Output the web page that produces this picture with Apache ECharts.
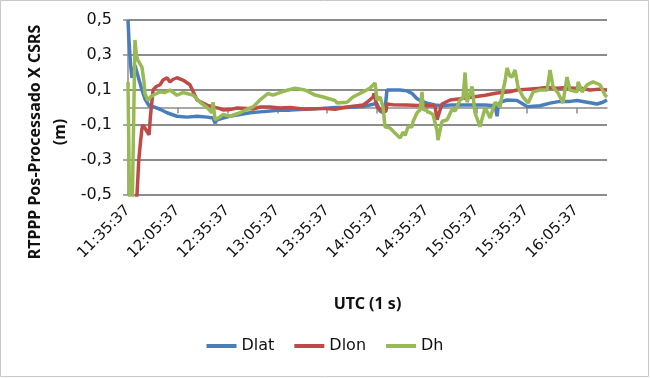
<!DOCTYPE html>
<html>
<head>
<meta charset="utf-8">
<script src="https://cdn.jsdelivr.net/npm/echarts@6/dist/echarts.min.js"></script>
<style>
html,body{margin:0;padding:0;background:#fff;}
#chart{width:650px;height:378px;}
</style>
</head>
<body>
<div id="chart"></div>
<script>
// Time in minutes after 11:35:37 UTC
var startTime = '11:35:37';
var xTickLabels = ['11:35:37','12:05:37','12:35:37','13:05:37','13:35:37','14:05:37','14:35:37','15:05:37','15:35:37','16:05:37'];
var yTickLabels = ['-0,5','-0,3','-0,1','0,1','0,3','0,5'];
var seriesNames = ['Dlat','Dlon','Dh'];

var dlatT = [0,0.5,1.5,2.4,3.5,4.2,6,8.4,10.2,12.7,15.1,19.3,23.5,29.5,35.5,41.6,47.6,51.2,52.4,53.6,57.2,61.4,67.5,73.5,79.5,85.5,91.6,97.6,106.6,117.5,124.7,131.9,141.6,148.2,150.0,151.8,153.6,154.8,156.0,157.8,163.9,168.1,171.1,174.1,177.1,180.1,184.9,189.1,195.2,201.8,207.8,215.1,221.1,222.3,222.9,224.1,228.3,234.3,237.9,240.4,248.2,254.2,260.2,266.2,270.5,276.5,282.5,286,288.5];
var dlatV = [0.5,0.4,0.25,0.17,0.21,0.24,0.18,0.1,0.05,0.01,0.005,-0.01,-0.03,-0.05,-0.055,-0.05,-0.055,-0.06,-0.09,-0.07,-0.06,-0.05,-0.04,-0.03,-0.025,-0.02,-0.015,-0.015,-0.01,-0.005,0.0,0.0,0.005,0.02,0.02,-0.02,-0.03,-0.01,0.1,0.1,0.1,0.095,0.08,0.05,0.035,0.025,0.015,0.01,0.015,0.015,0.015,0.014,0.01,-0.05,0.0,0.03,0.043,0.04,0.02,0.005,0.01,0.025,0.035,0.035,0.04,0.03,0.02,0.03,0.043];

var dlonT = [4.5,5.4,6.5,7.5,8.4,9.0,10.2,11,12.7,13.5,15.1,17,19.3,21.1,23.5,25.3,27,29.5,33.1,37.3,41.6,47.6,51.2,55,57.2,61.4,65.7,71.7,75.3,79.5,85.5,91.6,97.6,106.6,117.5,124.7,131.9,141.6,144.0,147.6,148.2,150.0,151.8,153.6,155.4,156.0,160,168,175,180,184.9,186.1,186.7,189.1,194.0,200,207.8,215.1,222.3,230,234.3,241,248.2,252.4,258.4,264,268.1,273,278.3,284,288.5];
var dlonV = [-0.55,-0.5,-0.3,-0.2,-0.12,-0.1,-0.11,-0.13,-0.157,-0.05,0.1,0.12,0.13,0.157,0.17,0.146,0.16,0.17,0.157,0.13,0.043,0.014,0.003,-0.005,-0.014,-0.012,-0.003,-0.005,-0.009,0.003,0.003,-0.003,0.0,-0.01,-0.005,-0.01,0.003,0.014,0.03,0.06,0.08,0.003,-0.01,-0.026,-0.02,0.02,0.015,0.014,0.012,0.01,0.01,-0.07,-0.06,0.02,0.043,0.05,0.06,0.07,0.083,0.09,0.1,0.105,0.11,0.115,0.11,0.115,0.11,0.11,0.1,0.105,0.1];

var dhT = [0,1.0,2.5,4.2,5,6,7.2,8.4,9.6,10.2,12,13.5,15.1,19.3,22,25.3,29.5,33,35.5,39.2,43.4,47.6,50.6,51.2,52.4,53.6,55.4,57.2,61.4,67.5,71.7,75.3,79.5,84.3,87.3,92.8,96.4,100.6,106.6,112.7,117.5,124.7,125.9,131.9,135.5,141.6,145.8,148.8,150.0,151.8,153.6,154.8,157.8,160.8,163.9,165.7,166.9,168.7,171.1,171.7,174.1,175.9,177.1,177.7,180.1,183.7,186.1,186.7,189.1,192.2,195.2,197.0,200.0,201.8,203.0,204.2,207.2,209.0,212.0,215.1,218.1,221.1,224.1,225.9,227.1,228.3,230,231.3,233.1,234.9,237.9,241.0,244.0,248.2,252.4,254.2,256.0,259.0,262.0,264.4,266.2,270.5,271.1,273.5,276.5,280.1,284.3,287.3,288.5];
var dhV = [0.146,-0.6,-0.6,0.386,0.3,0.27,0.25,0.23,0.15,0.08,0.04,0.06,0.07,0.09,0.085,0.1,0.07,0.085,0.08,0.071,0.03,0.0,-0.03,0.03,-0.07,-0.08,-0.054,-0.04,-0.05,-0.03,-0.01,0.003,0.043,0.08,0.071,0.089,0.1,0.11,0.1,0.071,0.06,0.04,0.026,0.03,0.06,0.089,0.111,0.14,0.043,0.06,0.003,-0.11,-0.117,-0.146,-0.174,-0.14,-0.16,-0.11,-0.11,-0.08,-0.03,-0.014,0.089,-0.01,-0.02,-0.04,-0.13,-0.186,-0.08,-0.07,-0.01,-0.02,0.043,0.054,0.2,0.03,0.12,-0.03,-0.11,0.0,-0.06,0.03,0.003,0.1,0.15,0.226,0.18,0.174,0.214,0.117,0.06,0.026,0.089,0.1,0.1,0.214,0.117,0.083,0.026,0.174,0.1,0.089,0.146,0.089,0.13,0.146,0.13,0.071,0.06];

function pairs(t, v) { return t.map(function (x, i) { return [x, v[i]]; }); }

var FONT = 'Noto Sans';
var LFONT = 'DejaVu Sans';
var colors = ['#4A7EBB', '#BE4B48', '#98B954'];
var chart = echarts.init(document.getElementById('chart'), null, { renderer: 'canvas' });
chart.setOption({
  animation: false,
  backgroundColor: '#fff',
  color: colors,
  textStyle: { fontFamily: FONT },
  grid: { left: 128, right: 43, top: 20, bottom: 183, containLabel: false },
  xAxis: {
    type: 'value', min: 0, max: 288.5, interval: 30,
    axisLine: { show: true, lineStyle: { color: '#8c8c8c', width: 1.5 } },
    axisTick: { show: true, length: 6, lineStyle: { color: '#8c8c8c', width: 1.5 } },
    splitLine: { show: false },
    axisLabel: {
      rotate: 45, margin: 13, color: '#111', fontSize: 15, fontFamily: LFONT,
      showMaxLabel: false,
      formatter: function (v) { var i = Math.round(v / 30); return (Math.abs(v - i * 30) < 1e-6 && xTickLabels[i]) ? xTickLabels[i] : ''; }
    },
    name: 'UTC (1 s)', nameLocation: 'middle', nameGap: 101,
    nameTextStyle: { fontWeight: 'bold', fontSize: 16, color: '#111', fontFamily: FONT }
  },
  yAxis: {
    type: 'value', min: -0.5, max: 0.5, interval: 0.2,
    axisLine: { show: true, lineStyle: { color: '#8c8c8c', width: 1.5 } },
    axisTick: { show: true, length: 5, lineStyle: { color: '#8c8c8c', width: 1.5 } },
    splitLine: { show: true, lineStyle: { color: '#8c8c8c', width: 2 } },
    axisLabel: {
      margin: 16, color: '#111', fontSize: 16, fontFamily: LFONT,
      formatter: function (v) { var i = Math.round((v + 0.5) / 0.2); return yTickLabels[i] || ''; }
    }
  },
  legend: {
    bottom: 19, left: 'center', itemWidth: 30, itemHeight: 4, itemGap: 20, icon: 'rect',
    textStyle: { fontSize: 16, color: '#111', fontFamily: LFONT },
    data: seriesNames
  },
  graphic: [
    { type: 'rect', shape: { x: 0.5, y: 0.5, width: 648, height: 376 }, style: { fill: 'none', stroke: '#c8c8c8', lineWidth: 1 }, silent: true },
    { type: 'text', x: 35, y: 142, rotation: Math.PI / 2, style: { text: 'RTPPP Pos-Processado X CSRS', fontSize: 16, fontWeight: 'bold', fontFamily: FONT, fill: '#111', align: 'center', verticalAlign: 'middle' } },
    { type: 'text', x: 60, y: 132, rotation: Math.PI / 2, style: { text: '(m)', fontSize: 16, fontWeight: 'bold', fontFamily: FONT, fill: '#111', align: 'center', verticalAlign: 'middle' } }
  ],
  series: [
    { name: seriesNames[0], type: 'line', data: pairs(dlatT, dlatV), showSymbol: false, symbol: 'none', lineStyle: { width: 3.5 }, clip: true, z: 2 },
    { name: seriesNames[1], type: 'line', data: pairs(dlonT, dlonV), showSymbol: false, symbol: 'none', lineStyle: { width: 3.5 }, clip: true, z: 3 },
    { name: seriesNames[2], type: 'line', data: pairs(dhT, dhV), showSymbol: false, symbol: 'none', lineStyle: { width: 3.5 }, clip: true, z: 4 }
  ]
});
</script>
</body>
</html>
